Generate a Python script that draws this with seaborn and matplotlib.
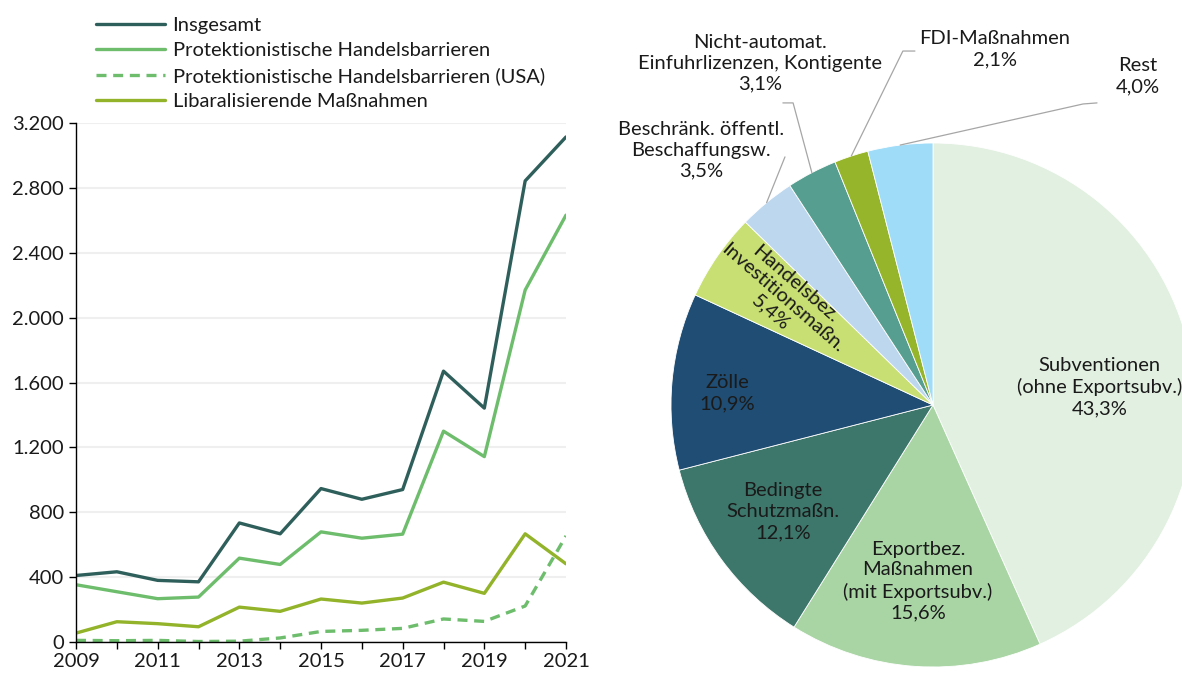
import numpy as np
import pandas as pd
import matplotlib
matplotlib.use("Agg")
import matplotlib.pyplot as plt
from matplotlib.ticker import FuncFormatter, MultipleLocator, FixedLocator
import seaborn as sns

# data
years = list(range(2009, 2022))
insgesamt = [410, 433, 380, 371, 734, 667, 946, 880, 940, 1670, 1442, 2843, 3114]
protekt = [353, 310, 267, 277, 517, 478, 679, 640, 665, 1300, 1143, 2170, 2632]
protekt_usa = [10, 8, 10, 3, 5, 25, 65, 72, 84, 142, 127, 222, 654]
liberal = [55, 125, 113, 94, 215, 189, 265, 240, 271, 369, 300, 667, 482]
x_ticks = [2009, 2011, 2013, 2015, 2017, 2019, 2021]

pie_labels = ["Subventionen\n(ohne Exportsubv.)", "Exportbez.\nMaßnahmen\n(mit Exportsubv.)",
              "Bedingte\nSchutzmaßn.", "Zölle", "Handelsbez.\nInvestitionsmaßn.",
              "Beschränk. öffentl.\nBeschaffungsw.", "Nicht-automat.\nEinfuhrlizenzen, Kontigente",
              "FDI-Maßnahmen", "Rest"]
pie_values = [43.3, 15.6, 12.1, 10.9, 5.4, 3.5, 3.1, 2.1, 4.0]
pie_colors = ["#e2f0e1", "#a9d5a5", "#3d766a", "#1f4d73", "#c8df73",
              "#bdd7ee", "#569e8f", "#97b52a", "#9fdcf7"]

sns.set_theme(style="white")
plt.rcParams['font.family'] = ['Lato', 'DejaVu Sans']
plt.rcParams['text.color'] = '#1a1a1a'
FS = 14.5

fig = plt.figure(figsize=(11.82, 6.75), dpi=100)

# line chart
ax = fig.add_axes([76/1182, 1-642/675, 490/1182, 519/675])
df = pd.DataFrame({"Jahr": years, "Insgesamt": insgesamt,
                   "Protektionistische Handelsbarrieren": protekt,
                   "Protektionistische Handelsbarrieren (USA)": protekt_usa,
                   "Libaralisierende Maßnahmen": liberal})
sns.lineplot(data=df, x="Jahr", y="Insgesamt", ax=ax, color="#2f5f5b", lw=2.4, label="Insgesamt")
sns.lineplot(data=df, x="Jahr", y="Protektionistische Handelsbarrieren", ax=ax, color="#6dbd6d", lw=2.4,
             label="Protektionistische Handelsbarrieren")
sns.lineplot(data=df, x="Jahr", y="Protektionistische Handelsbarrieren (USA)", ax=ax, color="#6dbd6d",
             lw=2.4, ls=(0, (3, 2)), label="Protektionistische Handelsbarrieren (USA)")
sns.lineplot(data=df, x="Jahr", y="Libaralisierende Maßnahmen", ax=ax, color="#92b32a", lw=2.4,
             label="Libaralisierende Maßnahmen")

ax.set_xlim(2009, 2021)
ax.set_ylim(0, 3200)
ax.set_xlabel("")
ax.set_ylabel("")
ax.yaxis.set_major_locator(MultipleLocator(400))
ax.yaxis.set_major_formatter(FuncFormatter(lambda v, p: f"{int(v):,}".replace(",", ".")))
ax.xaxis.set_major_locator(FixedLocator(x_ticks))
ax.xaxis.set_minor_locator(FixedLocator(years))
ax.grid(axis="y", color="#efefef", lw=1.5)
ax.set_axisbelow(True)
for s in ["top", "right"]:
    ax.spines[s].set_visible(False)
for s in ["left", "bottom"]:
    ax.spines[s].set_color("black")
    ax.spines[s].set_linewidth(1)
ax.tick_params(axis="both", which="both", direction="out", length=5, width=1, color="black",
               labelsize=FS, labelcolor="#1a1a1a", left=True, bottom=True)
ax.tick_params(axis="x", pad=3)

leg = ax.legend(loc="upper left", bbox_to_anchor=(20/490, 1 + 106/519), frameon=False, fontsize=FS,
                handlelength=3.45, handletextpad=0.35, labelspacing=0.4, borderaxespad=0, borderpad=0)

# pie chart
R = 262
k = 1.6
cx, cy = 933, 405
pax = fig.add_axes([(cx - k*R)/1182, (675 - cy - k*R)/675, 2*k*R/1182, 2*k*R/675])
wedges, _ = pax.pie(pie_values, colors=pie_colors, startangle=90, counterclock=False,
                    wedgeprops=dict(edgecolor="white", linewidth=0.6))
pax.set_xlim(-k, k)
pax.set_ylim(-k, k)
pax.axis("off")

pct = [f"{v:.1f}%".replace(".", ",") for v in pie_values]

# inside labels
inside = {0: (0.637, 0.069), 1: (-0.057, -0.672), 2: (-0.573, -0.408), 3: (-0.786, 0.046)}
for i, (x, y) in inside.items():
    pax.text(x, y, pie_labels[i] + "\n" + pct[i], ha="center", va="center", fontsize=FS,
             linespacing=1.28, color="#1a1a1a")

pax.text(-0.573, 0.408, pie_labels[4] + "\n" + pct[4], ha="center", va="center", fontsize=FS,
         linespacing=1.12, rotation=-41, rotation_mode="anchor", color="#1a1a1a")

# outside labels with leader lines
outside = {
    5: dict(text=(-0.885, 0.973), path=[(-0.565, 0.947)]),
    6: dict(text=(-0.66, 1.305), path=[(-0.534, 1.153), (-0.573, 1.153)]),
    7: dict(text=(0.237, 1.359), path=[(-0.115, 1.351), (-0.069, 1.351)]),
    8: dict(text=(0.782, 1.254), path=[(0.573, 1.149), (0.626, 1.153)]),
}
for i, o in outside.items():
    w = wedges[i]
    a = np.deg2rad((w.theta1 + w.theta2) / 2)
    pts = [(np.cos(a), np.sin(a))] + o["path"]
    xs, ys = zip(*pts)
    pax.plot(xs, ys, color="#a6a6a6", lw=0.9)
    pax.text(o["text"][0], o["text"][1], pie_labels[i] + "\n" + pct[i], ha="center", va="center",
             fontsize=FS, linespacing=1.28, color="#1a1a1a")

fig.savefig("out.png", dpi=100)
